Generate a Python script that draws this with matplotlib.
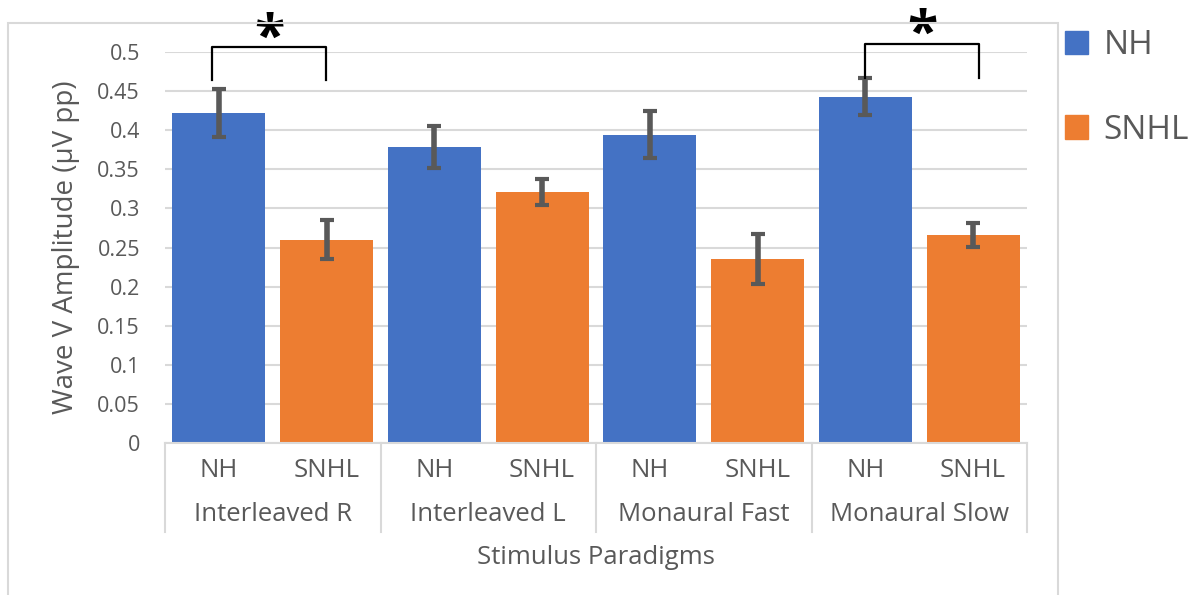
import matplotlib
matplotlib.use("Agg")
import matplotlib.pyplot as plt
from matplotlib.patches import Rectangle, Patch
import matplotlib.transforms as mtransforms
import numpy as np

plt.rcParams["font.family"] = ["Open Sans", "DejaVu Sans"]

paradigms = ["Interleaved R", "Interleaved L", "Monaural Fast", "Monaural Slow"]
groups = ["NH", "SNHL"]
nh_mean = [0.422, 0.379, 0.394, 0.443]
nh_err = [0.031, 0.027, 0.030, 0.024]
snhl_mean = [0.260, 0.321, 0.235, 0.266]
snhl_err = [0.025, 0.017, 0.032, 0.015]
y_ticks = [0, 0.05, 0.1, 0.15, 0.2, 0.25, 0.3, 0.35, 0.4, 0.45, 0.5]
y_tick_labels = ["0", "0.05", "0.1", "0.15", "0.2", "0.25", "0.3", "0.35",
                 "0.4", "0.45", "0.5"]
# significance brackets: (left x, right x, leg bottom, top) in data units
brackets = [(-0.06, 0.99, 0.464, 0.5065), (6.0, 7.05, 0.467, 0.510)]
stars = [(0.465, 0.528), (6.53, 0.534)]

BLUE = "#4472C4"
ORANGE = "#ED7D31"
TEXT = "#595959"
GRID = "#D9D9D9"

W, H = 1204, 595
fig = plt.figure(figsize=(W / 100, H / 100), dpi=100)
ax = fig.add_axes([165 / W, 1 - 443 / H, (1027 - 165) / W, (443 - 52) / H])

# outer chart frame
fig.patches.append(Rectangle((8 / W, -0.05), (1058 - 8) / W, 1.05 - 23 / H,
                             transform=fig.transFigure, fill=False,
                             edgecolor=GRID, linewidth=1.5))

x_nh = np.arange(len(paradigms)) * 2
x_sn = x_nh + 1
bw = 0.863
ax.bar(x_nh, nh_mean, bw, color=BLUE, zorder=2, label="NH")
ax.bar(x_sn, snhl_mean, bw, color=ORANGE, zorder=2, label="SNHL")
ekw = dict(fmt="none", ecolor="#595959", elinewidth=4, capsize=4.8,
           capthick=3, zorder=3)
ax.errorbar(x_nh, nh_mean, yerr=nh_err, **ekw)
ax.errorbar(x_sn, snhl_mean, yerr=snhl_err, **ekw)

ax.set_xlim(-0.5, 7.5)
ax.set_ylim(0, 0.5)
ax.set_yticks(y_ticks)
ax.set_yticklabels(y_tick_labels)
ax.yaxis.grid(True, color=GRID, linewidth=1.5, zorder=0)
ax.set_axisbelow(True)
ax.tick_params(axis="y", length=0, pad=18, labelsize=15.5, labelcolor=TEXT)
for s in ["top", "right", "left"]:
    ax.spines[s].set_visible(False)
ax.spines["bottom"].set_color(GRID)
ax.spines["bottom"].set_linewidth(1.5)

ticks_x = np.sort(np.concatenate([x_nh, x_sn]))
ax.set_xticks(ticks_x)
ax.set_xticklabels(groups * len(paradigms))
ax.tick_params(axis="x", length=0, pad=11, labelsize=18.5, labelcolor=TEXT)

trans = mtransforms.blended_transform_factory(ax.transData, ax.transAxes)
for b in np.arange(-0.5, 8, 2):
    ax.plot([b, b], [0, -0.2276], transform=trans, color=GRID,
            linewidth=1.5, clip_on=False)
for i, name in enumerate(paradigms):
    ax.text(x_nh[i] + 0.5, -0.1840, name, transform=trans, ha="center",
            va="center", fontsize=18.5, color=TEXT)
ax.text(3.5, -0.2920, "Stimulus Paradigms", transform=trans, ha="center",
        va="center", fontsize=18.5, color=TEXT)

ax.set_ylabel("Wave V Amplitude (\u00b5V pp)", fontsize=20, color=TEXT)
ax.yaxis.set_label_coords(-0.0986, 0.5)

for (x0, x1, yb, yt) in brackets:
    ax.plot([x0, x0, x1, x1], [yb, yt, yt, yb], color="black",
            linewidth=1.6, clip_on=False, zorder=4)
for (sx, sy) in stars:
    ax.annotate("*", xy=(sx, sy), xytext=(0, -24), textcoords="offset pixels",
                ha="center", va="baseline", fontsize=40,
                fontweight="bold", color="black", annotation_clip=False)

handles = [Patch(color=BLUE), Patch(color=ORANGE)]
fig.legend(handles, groups, loc="upper left",
           bbox_to_anchor=(1065 / W, 1 - 29 / H), frameon=False,
           fontsize=24, handlelength=0.7, handleheight=0.7,
           handletextpad=0.45, labelspacing=1.55, borderpad=0,
           borderaxespad=0, labelcolor=TEXT)

fig.savefig("out.png", dpi=100)
